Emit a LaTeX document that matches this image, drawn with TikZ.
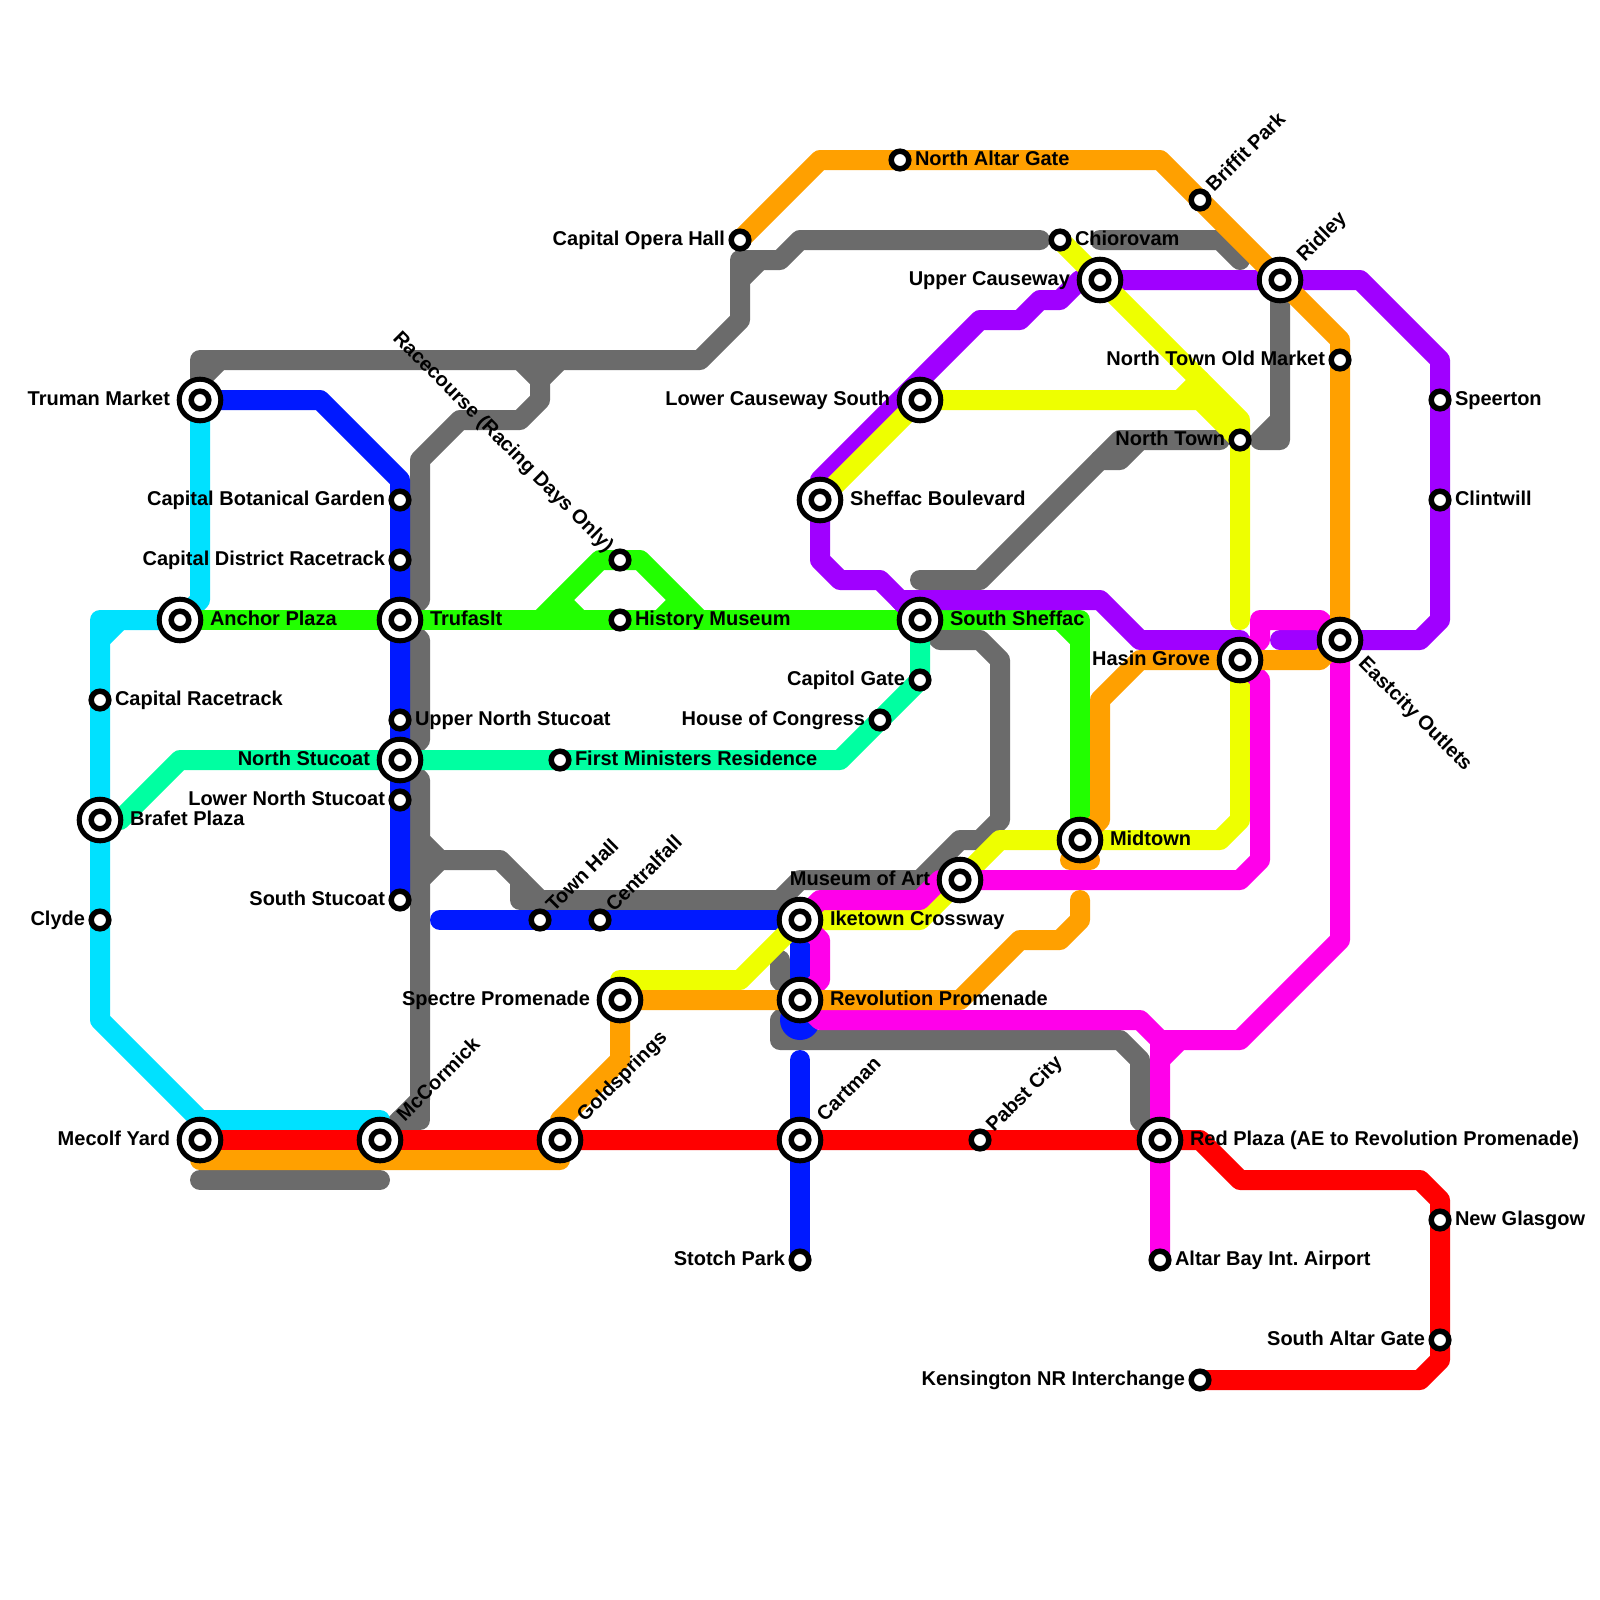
\documentclass[tikz,border=0pt]{standalone}
\usepackage{fontspec}
\setmainfont{Liberation Sans}
\usetikzlibrary{calc}
\definecolor{cgrey}{RGB}{107,107,107}
\definecolor{ccyan}{RGB}{0,225,255}
\definecolor{cred}{RGB}{255,0,0}
\definecolor{cspring}{RGB}{0,255,161}
\definecolor{cgreen}{RGB}{34,255,0}
\definecolor{cblue}{RGB}{0,25,255}
\definecolor{cpurple}{RGB}{160,0,255}
\definecolor{cyellow}{RGB}{238,255,0}
\definecolor{cmagenta}{RGB}{255,0,234}
\definecolor{corange}{RGB}{255,160,0}
\tikzstyle{track} = [line width=0.5cm, line cap=round, line join=round]
\tikzstyle{halt} = [circle, draw=black, fill=white, line width=0.1375cm, minimum size=0.44cm, inner sep=0pt, outer sep=0pt]
\tikzstyle{hub} = [circle, draw=black, fill=white, line width=0.125cm, minimum size=1.04cm, inner sep=0pt, outer sep=0pt, path picture={\draw[black, line width=0.1375cm] (path picture bounding box.center) circle (0.22cm);}]
\tikzstyle{stationtext} = [font=\fontsize{14.23}{17}\selectfont\bfseries, inner sep=0pt, outer sep=0pt, text=black]
\tikzstyle{haltright} = [stationtext, anchor=base west, xshift=0.375cm, yshift=-0.125cm]
\tikzstyle{haltleft} = [stationtext, anchor=base east, xshift=-0.375cm, yshift=-0.125cm]
\tikzstyle{hubright} = [stationtext, anchor=base west, xshift=0.75cm, yshift=-0.125cm]
\tikzstyle{hubleft} = [stationtext, anchor=base east, xshift=-0.75cm, yshift=-0.125cm]
\tikzstyle{tiltup} = [stationtext, anchor=base west, rotate=45]
\tikzstyle{tiltdown} = [stationtext, anchor=base west, rotate=-45]
\tikzstyle{tiltback} = [stationtext, anchor=base east, rotate=-45]

\begin{document}
\begin{tikzpicture}[x=0.5cm, y=-0.5cm]
\useasboundingbox (0,0) rectangle (80,80);
%begin stations
\coordinate (truman) at (10,20);
\coordinate (anchorplaza) at (9,31);
\coordinate (trufaslt) at (20,31);
\coordinate (northstucoat) at (20,38);
\coordinate (brafet) at (5,41);
\coordinate (capracetrack) at (5,35);
\coordinate (clyde) at (5,46);
\coordinate (mecolf) at (10,57);
\coordinate (mccormick) at (19,57);
\coordinate (goldsprings) at (28,57);
\coordinate (cartman) at (40,57);
\coordinate (pabst) at (49,57);
\coordinate (redplaza) at (58,57);
\coordinate (stotch) at (40,63);
\coordinate (altarbay) at (58,63);
\coordinate (glasgow) at (72,61);
\coordinate (southaltar) at (72,67);
\coordinate (kensington) at (60,69);
\coordinate (botanical) at (20,25);
\coordinate (district) at (20,28);
\coordinate (uppernorth) at (20,36);
\coordinate (lowernorth) at (20,40);
\coordinate (southstucoat) at (20,45);
\coordinate (townhall) at (27,46);
\coordinate (centralfall) at (30,46);
\coordinate (iketown) at (40,46);
\coordinate (revolution) at (40,50);
\coordinate (spectre) at (31,50);
\coordinate (museum) at (48,44);
\coordinate (midtown) at (54,42);
\coordinate (hasin) at (62,33);
\coordinate (eastcity) at (67,32);
\coordinate (southsheffac) at (46,31);
\coordinate (sheffac) at (41,25);
\coordinate (lowercauseway) at (46,20);
\coordinate (uppercauseway) at (55,14);
\coordinate (ridley) at (64,14);
\coordinate (opera) at (37,12);
\coordinate (northaltar) at (45,8);
\coordinate (chiorovam) at (53,12);
\coordinate (briffit) at (60,10);
\coordinate (oldmarket) at (67,18);
\coordinate (northtown) at (62,22);
\coordinate (speerton) at (72,20);
\coordinate (clintwill) at (72,25);
\coordinate (history) at (31,31);
\coordinate (racecourse) at (31,28);
\coordinate (capitol) at (46,34);
\coordinate (congress) at (44,36);
\coordinate (ministers) at (28,38);
%end stations
%begin grey
\draw[track, cgrey] (truman) -- (10,18) -- (35,18) -- (37,16) -- (37,13) -- (39,13) -- (40,12) -- (52,12);
\draw[track, cgrey] (11,18) -- (10,19);
\draw[track, cgrey] (37,14) -- (38,13);
\draw[track, cgrey] (26,18) -- (27,19) -- (27,20) -- (26,21) -- (23,21) -- (21,23) -- (21,30) -- (trufaslt);
\draw[track, cgrey] (28,18) -- (27,19);
\draw[track, cgrey] (trufaslt) -- (21,32) -- (21,37) -- (northstucoat);
\draw[track, cgrey] (northstucoat) -- (21,39) -- (21,55) -- (mccormick);
\draw[track, cgrey] (21,55) -- (21,56) -- (20,56);
\draw[track, cgrey] (21,42) -- (22,43) -- (21,44);
\draw[track, cgrey] (22,43) -- (25,43) -- (27,45) -- (39,45) -- (40,44) -- (46,44) -- (48,42) -- (49,42) -- (50,41) -- (50,33) -- (49,32) -- (47,32) -- (southsheffac);
\draw[track, cgrey] (26,44) -- (26,45) -- (27,45);
\draw[track, cgrey] (39,48) -- (39,49) -- (revolution);
\draw[track, cgrey] (revolution) -- (39,51) -- (39,52) -- (56,52) -- (57,53) -- (57,56) -- (redplaza);
\draw[track, cgrey] (10,59) -- (19,59);
\draw[track, cgrey] (46,29) -- (49,29) -- (56,22) -- (61,22);
\draw[track, cgrey] (55,23) -- (56,23) -- (57,22);
\draw[track, cgrey] (ridley) -- (64,22) -- (63,22) -- (64,21);
\draw[track, cgrey] (55,12) -- (61,12) -- (62,13);
%end grey
%begin cyan
\draw[track, ccyan] (truman) -- (10,30) -- (anchorplaza) -- (5,31) -- (5,51) -- (10,56) -- (19,56) -- (mccormick);
\draw[track, ccyan] (6,31) -- (5,32);
\draw[track, ccyan] (10,56) -- (mecolf);
%end cyan
%begin red
\draw[track, cred] (mecolf) -- (60,57) -- (62,59) -- (71,59) -- (72,60) -- (72,68) -- (71,69) -- (kensington);
%end red
%begin spring
\draw[track, cspring] (brafet) -- (6,41) -- (9,38) -- (42,38) -- (capitol) -- (southsheffac);
%end spring
%begin green
\draw[track, cgreen] (anchorplaza) -- (54,31) -- (midtown);
\draw[track, cgreen] (53,31) -- (54,32);
\draw[track, cgreen] (27,31) -- (30,28) -- (32,28) -- (35,31);
\draw[track, cgreen] (28,30) -- (29,31);
\draw[track, cgreen] (34,30) -- (33,31);
%end green
%begin blue
\draw[track, cblue] (truman) -- (16,20) -- (20,24) -- (southstucoat);
\draw[track, cblue] (22,46) -- (iketown) -- (revolution);
\fill[cblue] (40,51) circle (0.5cm);
\draw[track, cblue] (40,53) -- (stotch);
%end blue
%begin purple
\draw[track, cpurple] (64,32) -- (71,32) -- (72,31) -- (72,18) -- (68,14) -- (54,14) -- (53,15) -- (52,15) -- (51,16) -- (49,16) -- (41,24) -- (41,28) -- (42,29) -- (44,29) -- (southsheffac);
\draw[track, cpurple] (southsheffac) -- (45,30) -- (55,30) -- (57,32) -- (62,32) -- (hasin);
%end purple
%begin yellow
\draw[track, cyellow] (62,31) -- (62,21) -- (chiorovam);
\draw[track, cyellow] (sheffac) -- (lowercauseway) -- (60,20) -- (62,22);
\draw[track, cyellow] (59,20) -- (60,19);
\draw[track, cyellow] (spectre) -- (31,49) -- (37,49) -- (iketown) -- (46,46) -- (50,42) -- (61,42) -- (62,41) -- (hasin);
%end yellow
%begin magenta
\draw[track, cmagenta] (hasin) -- (63,34) -- (63,43) -- (62,44) -- (47,44) -- (46,45) -- (41,45) -- (iketown) -- (41,47) -- (41,49) -- (revolution) -- (41,51) -- (57,51) -- (58,52) -- (altarbay);
\draw[track, cmagenta] (hasin) -- (63,32) -- (63,31) -- (66,31) -- (eastcity);
\draw[track, cmagenta] (eastcity) -- (67,47) -- (62,52) -- (59,52) -- (58,53);
\draw[track, cmagenta] (58,52) -- (59,52);
%end magenta
%begin orange
\draw[track, corange] (54,45) -- (54,46) -- (53,47) -- (51,47) -- (48,50) -- (spectre) -- (31,53) -- (28,56) -- (28,58) -- (10,58);
\draw[track, corange] (midtown) -- (55,41) -- (55,35) -- (57,33) -- (66,33) -- (eastcity) -- (67,17) -- (ridley) -- (58,8) -- (41,8) -- (opera);
\draw[track, corange] (53.5,43) -- (54.5,43);
%end orange
%begin stops
\node[hub] (trumanstop) at (truman) {};
\node[hub] (anchorstop) at (anchorplaza) {};
\node[hub] (trufasltstop) at (trufaslt) {};
\node[hub] (northstucoatstop) at (northstucoat) {};
\node[hub] (brafetstop) at (brafet) {};
\node[hub] (mecolfstop) at (mecolf) {};
\node[hub] (mccormickstop) at (mccormick) {};
\node[hub] (goldspringsstop) at (goldsprings) {};
\node[hub] (cartmanstop) at (cartman) {};
\node[hub] (redplazastop) at (redplaza) {};
\node[hub] (iketownstop) at (iketown) {};
\node[hub] (revolutionstop) at (revolution) {};
\node[hub] (spectrestop) at (spectre) {};
\node[hub] (museumstop) at (museum) {};
\node[hub] (midtownstop) at (midtown) {};
\node[hub] (hasinstop) at (hasin) {};
\node[hub] (eastcitystop) at (eastcity) {};
\node[hub] (southsheffacstop) at (southsheffac) {};
\node[hub] (sheffacstop) at (sheffac) {};
\node[hub] (lowercausewaystop) at (lowercauseway) {};
\node[hub] (uppercausewaystop) at (uppercauseway) {};
\node[hub] (ridleystop) at (ridley) {};
\node[halt] (capracetrackstop) at (capracetrack) {};
\node[halt] (clydestop) at (clyde) {};
\node[halt] (pabststop) at (pabst) {};
\node[halt] (stotchstop) at (stotch) {};
\node[halt] (altarbaystop) at (altarbay) {};
\node[halt] (glasgowstop) at (glasgow) {};
\node[halt] (southaltarstop) at (southaltar) {};
\node[halt] (kensingtonstop) at (kensington) {};
\node[halt] (botanicalstop) at (botanical) {};
\node[halt] (districtstop) at (district) {};
\node[halt] (uppernorthstop) at (uppernorth) {};
\node[halt] (lowernorthstop) at (lowernorth) {};
\node[halt] (southstucoatstop) at (southstucoat) {};
\node[halt] (townhallstop) at (townhall) {};
\node[halt] (centralfallstop) at (centralfall) {};
\node[halt] (operastop) at (opera) {};
\node[halt] (northaltarstop) at (northaltar) {};
\node[halt] (chiorovamstop) at (chiorovam) {};
\node[halt] (briffitstop) at (briffit) {};
\node[halt] (oldmarketstop) at (oldmarket) {};
\node[halt] (northtownstop) at (northtown) {};
\node[halt] (speertonstop) at (speerton) {};
\node[halt] (clintwillstop) at (clintwill) {};
\node[halt] (historystop) at (history) {};
\node[halt] (racecoursestop) at (racecourse) {};
\node[halt] (capitolstop) at (capitol) {};
\node[halt] (congressstop) at (congress) {};
\node[halt] (ministersstop) at (ministers) {};
%end stops
%begin names
\node[hubleft] (trumantext) at (truman) {Truman Market};
\node[hubright] (anchortext) at (anchorplaza) {Anchor Plaza};
\node[hubright] (trufasltext) at (trufaslt) {Trufaslt};
\node[hubleft] (northstucoattext) at (northstucoat) {North Stucoat};
\node[hubright] (brafettext) at (brafet) {Brafet Plaza};
\node[hubleft] (mecolftext) at (mecolf) {Mecolf Yard};
\node[hubright] (redplazatext) at (redplaza) {Red Plaza (AE to Revolution Promenade)};
\node[hubright] (iketowntext) at (iketown) {Iketown Crossway};
\node[hubright] (revolutiontext) at (revolution) {Revolution Promenade};
\node[hubleft] (spectretext) at (spectre) {Spectre Promenade};
\node[hubleft] (museumtext) at (museum) {Museum of Art};
\node[hubright] (midtowntext) at (midtown) {Midtown};
\node[hubleft] (hasintext) at (hasin) {Hasin Grove};
\node[hubright] (southsheffactext) at (southsheffac) {South Sheffac};
\node[hubright] (sheffactext) at (sheffac) {Sheffac Boulevard};
\node[hubleft] (lowercausewaytext) at (lowercauseway) {Lower Causeway South};
\node[hubleft] (uppercausewaytext) at (uppercauseway) {Upper Causeway};
\node[haltright] (capracetracktext) at (capracetrack) {Capital Racetrack};
\node[haltleft] (clydetext) at (clyde) {Clyde};
\node[haltleft] (stotchtext) at (stotch) {Stotch Park};
\node[haltright] (altarbaytext) at (altarbay) {Altar Bay Int.\ Airport};
\node[haltright] (glasgowtext) at (glasgow) {New Glasgow};
\node[haltleft] (southaltartext) at (southaltar) {South Altar Gate};
\node[haltleft] (kensingtontext) at (kensington) {Kensington NR Interchange};
\node[haltleft] (botanicaltext) at (botanical) {Capital Botanical Garden};
\node[haltleft] (districttext) at (district) {Capital District Racetrack};
\node[haltright] (uppernorthtext) at (uppernorth) {Upper North Stucoat};
\node[haltleft] (lowernorthtext) at (lowernorth) {Lower North Stucoat};
\node[haltleft] (southstucoattext) at (southstucoat) {South Stucoat};
\node[haltleft] (operatext) at (opera) {Capital Opera Hall};
\node[haltright] (northaltartext) at (northaltar) {North Altar Gate};
\node[haltright] (chiorovamtext) at (chiorovam) {Chiorovam};
\node[haltleft] (oldmarkettext) at (oldmarket) {North Town Old Market};
\node[haltleft] (northtowntext) at (northtown) {North Town};
\node[haltright] (speertontext) at (speerton) {Speerton};
\node[haltright] (clintwilltext) at (clintwill) {Clintwill};
\node[haltright] (historytext) at (history) {History Museum};
\node[haltleft] (capitoltext) at (capitol) {Capitol Gate};
\node[haltleft] (congresstext) at (congress) {House of Congress};
\node[haltright] (ministerstext) at (ministers) {First Ministers Residence};
%tilted names
\node[tiltup] (mccormicktext) at ($(mccormick)+(45:0.75cm)+(-45:0.125cm)$) {McCormick};
\node[tiltup] (goldspringstext) at ($(goldsprings)+(45:0.75cm)+(-45:0.125cm)$) {Goldsprings};
\node[tiltup] (cartmantext) at ($(cartman)+(45:0.75cm)+(-45:0.125cm)$) {Cartman};
\node[tiltup] (ridleytext) at ($(ridley)+(45:0.75cm)+(-45:0.125cm)$) {Ridley};
\node[tiltup] (pabsttext) at ($(pabst)+(45:0.375cm)+(-45:0.125cm)$) {Pabst City};
\node[tiltup] (townhalltext) at ($(townhall)+(45:0.375cm)+(-45:0.125cm)$) {Town Hall};
\node[tiltup] (centralfalltext) at ($(centralfall)+(45:0.375cm)+(-45:0.125cm)$) {Centralfall};
\node[tiltup] (briffittext) at ($(briffit)+(45:0.375cm)+(-45:0.125cm)$) {Briffit Park};
\node[tiltdown] (eastcitytext) at ($(eastcity)+(-45:0.75cm)+(-135:0.125cm)$) {Eastcity Outlets};
\node[tiltback] (racecoursetext) at ($(racecourse)+(135:0.375cm)+(-135:0.125cm)$) {Racecourse (Racing Days Only)};
%end names
\end{tikzpicture}
\end{document}
